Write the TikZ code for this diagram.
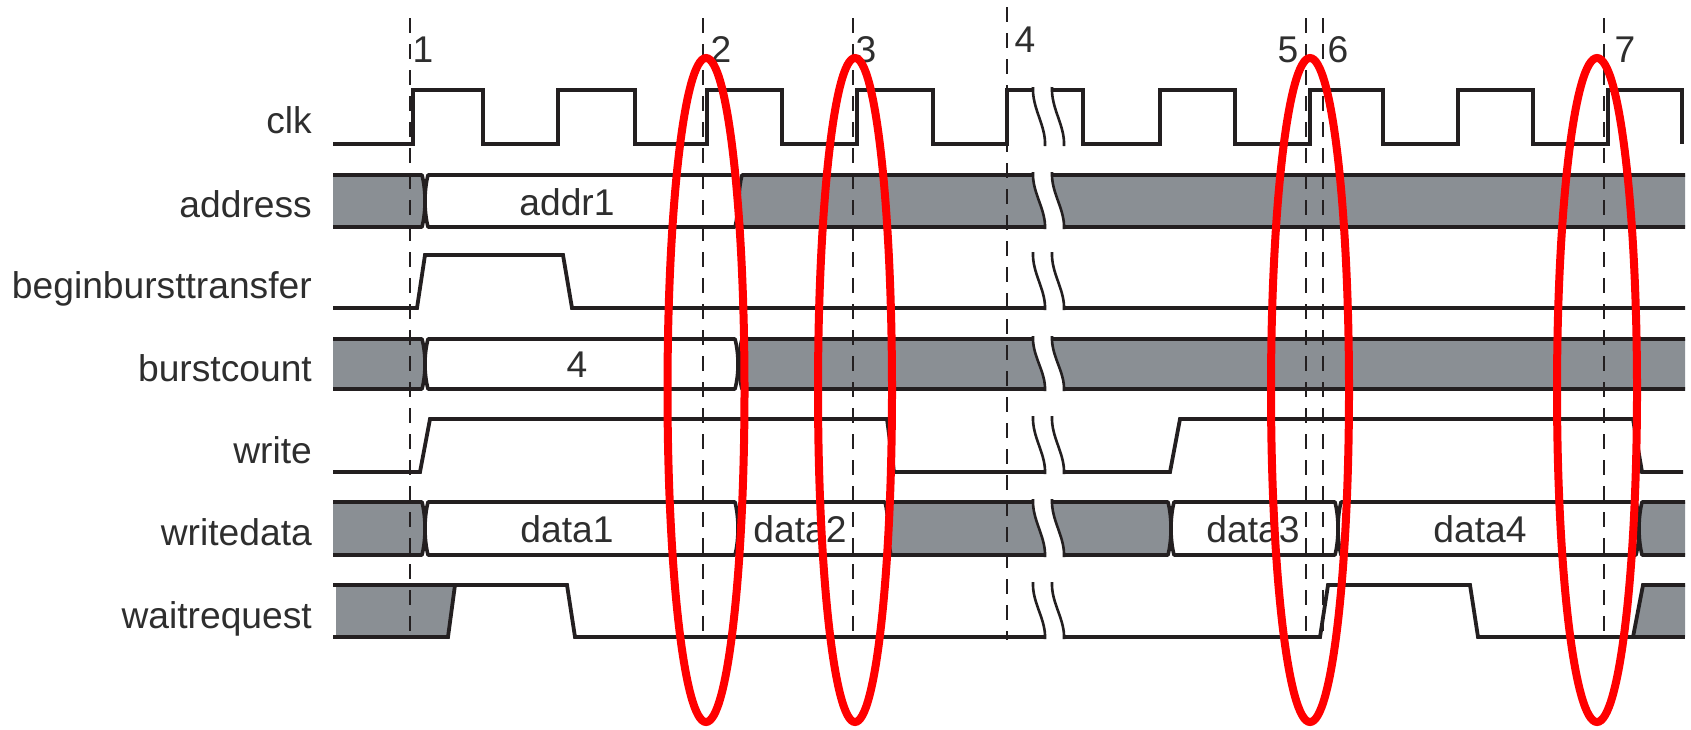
\documentclass[tikz,border=0pt]{standalone}
\usepackage{fontspec}
\setmainfont{Liberation Sans}
\definecolor{sig}{HTML}{231F20}
\definecolor{busgray}{RGB}{138,143,148}
\definecolor{txt}{HTML}{2E2E2E}
\newcommand{\tdfont}{\fontsize{37.2}{40}\selectfont}
% bus segment with "(" at left end (#2) and ")" at right end (#3)
\newcommand{\tdseg}[5]{%
  \filldraw[fill=#1,draw=sig,line width=3.6pt,line join=round]
    (#2,#4) -- (#3,#4)
    .. controls ({#3+4},{#4+0.3*(#5-#4)}) and ({#3+4},{#5-0.3*(#5-#4)}) .. (#3,#5)
    -- (#2,#5)
    .. controls ({#2-4},{#5-0.3*(#5-#4)}) and ({#2-4},{#4+0.3*(#5-#4)}) .. cycle;}
% first segment from the left edge, ")" at #2
\newcommand{\tdfirst}[4]{%
  \fill[#1] (336,#3) rectangle (#2,#4);
  \filldraw[fill=#1,draw=sig,line width=3.6pt,line join=round]
    (333,#3) -- (#2,#3)
    .. controls ({#2+4},{#3+0.3*(#4-#3)}) and ({#2+4},{#4-0.3*(#4-#3)}) .. (#2,#4)
    -- (333,#4);}
% last segment to the right edge, "(" at #2
\newcommand{\tdlast}[4]{%
  \fill[#1] (#2,#3) rectangle (1685,#4);
  \filldraw[fill=#1,draw=sig,line width=3.6pt,line join=round]
    (1685,#4) -- (#2,#4)
    .. controls ({#2-4},{#4-0.3*(#4-#3)}) and ({#2-4},{#3+0.3*(#4-#3)}) .. (#2,#3)
    -- (1685,#3);}
% break in a row between #1 (top) and #2 (bottom)
\newcommand{\tdbreak}[2]{%
  \fill[white] (1033,{#1-8}) -- (1033,{#1-3})
    .. controls (1032,{#1+0.35*(#2-#1)}) and (1046,{#2-0.35*(#2-#1)}) .. (1045,{#2+2})
    -- (1045,{#2+8}) -- (1064,{#2+8}) -- (1064,{#2+2})
    .. controls (1065,{#2-0.35*(#2-#1)}) and (1051,{#1+0.35*(#2-#1)}) .. (1052,{#1-3})
    -- (1052,{#1-8}) -- cycle;
  \draw[sig,line width=2.6pt] (1033,{#1-3})
    .. controls (1032,{#1+0.35*(#2-#1)}) and (1046,{#2-0.35*(#2-#1)}) .. (1045,{#2+2});
  \draw[sig,line width=2.6pt] (1052,{#1-3})
    .. controls (1051,{#1+0.35*(#2-#1)}) and (1065,{#2-0.35*(#2-#1)}) .. (1064,{#2+2});}
\tikzset{
  wave/.style={draw=sig,line width=3.8pt,line join=miter},
  guide/.style={draw=sig,line width=2.3pt,dash pattern=on 15pt off 11pt},
  hilite/.style={draw=red,line width=8pt},
  siglabel/.style={anchor=base east,inner sep=0pt,text=txt,font=\tdfont},
  buslabel/.style={anchor=base,inner sep=0pt,text=txt,font=\tdfont},
}
\begin{document}
\begin{tikzpicture}[x=1pt,y=-1pt]
\useasboundingbox (0,0) rectangle (1691,729);

% ---------- signal names ----------
\node[siglabel] (lclk)   at (312,133) {clk};
\node[siglabel] (laddr)  at (312,217) {address};
\node[siglabel] (lbbt)   at (312,298) {beginbursttransfer};
\node[siglabel] (lbc)    at (312,381) {burstcount};
\node[siglabel] (lwr)    at (312,463) {write};
\node[siglabel] (lwd)    at (312,545) {writedata};
\node[siglabel] (lwait)  at (312,628) {waitrequest};

% ---------- clk ----------
\draw[wave] (333,144) -- (413,144) -- (413,90) -- (483,90) -- (483,144)
  -- (558,144) -- (558,90) -- (635,90) -- (635,144)
  -- (707,144) -- (707,90) -- (782,90) -- (782,144)
  -- (857,144) -- (857,90) -- (933,90) -- (933,144)
  -- (1007,144) -- (1007,90) -- (1083,90) -- (1083,144)
  -- (1160,144) -- (1160,90) -- (1235,90) -- (1235,144)
  -- (1310,144) -- (1310,90) -- (1383,90) -- (1383,144)
  -- (1458,144) -- (1458,90) -- (1533,90) -- (1533,144)
  -- (1608,144) -- (1608,90) -- (1682,90) -- (1682,144);

% ---------- address ----------
\tdfirst{busgray}{422}{175}{227}
\tdseg{white}{428}{735}{175}{227}
\tdlast{busgray}{742}{175}{227}

% ---------- beginbursttransfer ----------
\draw[wave] (333,308) -- (417,308) -- (425,255) -- (563,255) -- (572,308) -- (1685,308);

% ---------- burstcount ----------
\tdfirst{busgray}{422}{339}{389}
\tdseg{white}{428}{735}{339}{389}
\tdlast{busgray}{742}{339}{389}

% ---------- write ----------
\draw[wave] (333,472) -- (420,472) -- (430,419) -- (887,419) -- (894,472)
  -- (1170,472) -- (1180,419) -- (1633,419) -- (1642,472) -- (1683,472);

% ---------- writedata ----------
\tdfirst{busgray}{422}{502}{555}
\tdseg{white}{428}{735}{502}{555}
\tdseg{white}{741}{885}{502}{555}
\tdseg{busgray}{891}{1168}{502}{555}
\tdseg{white}{1174}{1335}{502}{555}
\tdseg{white}{1341}{1636}{502}{555}
\tdlast{busgray}{1642}{502}{555}

% ---------- waitrequest ----------
\fill[busgray] (336,585) -- (455,585) -- (448,637) -- (336,637) -- cycle;
\fill[busgray] (1643,585) -- (1685,585) -- (1685,637) -- (1633,637) -- cycle;
\draw[wave] (333,637) -- (448,637) -- (455,585);
\draw[wave] (333,585) -- (567,585) -- (575,637) -- (1320,637) -- (1328,585)
  -- (1470,585) -- (1478,637) -- (1633,637) -- (1643,585) -- (1685,585);
\draw[wave] (1633,637) -- (1685,637);

% ---------- break ----------
\tdbreak{90}{144}
\tdbreak{175}{227}
\tdbreak{255}{308}
\tdbreak{339}{389}
\tdbreak{419}{472}
\tdbreak{502}{555}
\tdbreak{585}{637}

% ---------- values ----------
\node[buslabel] (vaddr)  at (567,215) {addr1};
\node[buslabel] (vbc)    at (577,377) {4};
\node[buslabel] (vd1)    at (567,542) {data1};
\node[buslabel] (vd2)    at (800,542) {data2};
\node[buslabel] (vd3)    at (1253,542) {data3};
\node[buslabel] (vd4)    at (1480,542) {data4};

% ---------- guide lines ----------
\draw[guide] (410,18) -- (410,640);
\draw[guide] (703,18) -- (703,640);
\draw[guide] (853,18) -- (853,640);
\draw[guide] (1007,7) -- (1007,640);
\draw[guide] (1306,18) -- (1306,640);
\draw[guide] (1323,18) -- (1323,640);
\draw[guide] (1604,18) -- (1604,640);

\node[buslabel] (n1) at (423,62) {1};
\node[buslabel] (n2) at (721,62) {2};
\node[buslabel] (n3) at (866,62) {3};
\node[buslabel] (n4) at (1025,52) {4};
\node[buslabel] (n5) at (1288,62) {5};
\node[buslabel] (n6) at (1338,62) {6};
\node[buslabel] (n7) at (1625,62) {7};

% ---------- highlights ----------
\draw[hilite] (706,390) ellipse [x radius=38.5pt, y radius=332pt];
\draw[hilite] (855,390) ellipse [x radius=37pt, y radius=332pt];
\draw[hilite] (1310,390) ellipse [x radius=39pt, y radius=332pt];
\draw[hilite] (1597,390) ellipse [x radius=40pt, y radius=332pt];
\end{tikzpicture}
\end{document}
